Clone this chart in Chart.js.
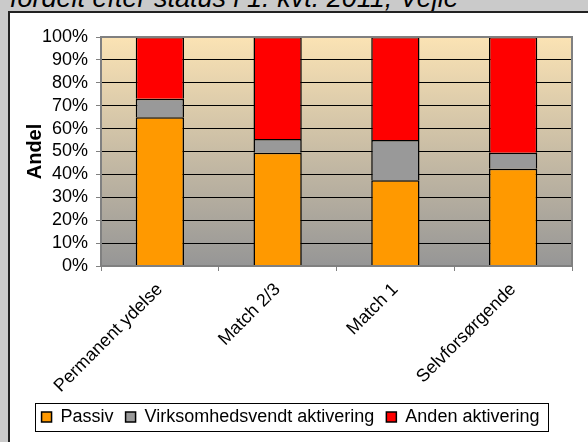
<!DOCTYPE html>
<html>
<head>
<meta charset="utf-8">
<script src="https://cdn.jsdelivr.net/npm/chart.js@4.4.0/dist/chart.umd.min.js"></script>
<style>
  html, body { margin: 0; padding: 0; }
  body { width: 588px; height: 442px; background: #cacaca; position: relative; overflow: hidden; font-family: "Liberation Sans", Arial, sans-serif; }
  .title { position: absolute; left: 10px; top: -15px; font-size: 27px; line-height: 27px; font-style: italic; color: #000; white-space: nowrap; }
  .panel { position: absolute; left: 8px; top: 11px; width: 600px; height: 460px; background: #fff; border-left: 2px solid #222; border-top: 2px solid #222; }
  .wrap { position: absolute; left: 0; top: 0; width: 588px; height: 442px; }
</style>
</head>
<body>
<div class="title">fordelt efter status i 1. kvt. 2011, Vejle</div>
<div class="panel"></div>
<div class="wrap"><canvas id="chart" width="588" height="442"></canvas></div>
<script>
const categories = ['Permanent ydelse', 'Match 2/3', 'Match 1', 'Selvforsørgende'];
const passiv = [65, 49.5, 37.5, 42.5];
const virksomhedsvendt = [8, 6, 17.5, 7];
const anden = [27, 44.5, 45, 50.5];

const FONT = '"Liberation Sans", Arial, sans-serif';

const plotBackground = {
  id: 'plotBackground',
  beforeDraw(chart) {
    const { ctx, chartArea: a } = chart;
    const g = ctx.createLinearGradient(0, a.top, 0, a.bottom);
    g.addColorStop(0, '#fbe3b4');
    g.addColorStop(1, '#969696');
    ctx.save();
    ctx.fillStyle = g;
    ctx.fillRect(a.left, a.top, a.right - a.left, a.bottom - a.top);
    ctx.restore();
  },
  afterDraw(chart) {
    const { ctx, chartArea: a, legend } = chart;
    ctx.save();
    ctx.strokeStyle = '#808080';
    ctx.lineWidth = 2;
    ctx.strokeRect(a.left, a.top, a.right - a.left, a.bottom - a.top);
    // legend frame
    const boxes = legend.legendHitBoxes;
    if (boxes && boxes.length) {
      const l = Math.min(...boxes.map(b => b.left)) - 7;
      const r = Math.max(...boxes.map(b => b.left + b.width)) + 8;
      const t = boxes[0].top - 5;
      const btm = boxes[0].top + boxes[0].height + 5;
      ctx.strokeStyle = '#000';
      ctx.lineWidth = 1;
      ctx.strokeRect(Math.round(l) + 0.5, Math.round(t) + 0.5, Math.round(r - l), Math.round(btm - t));
    }
    ctx.restore();
  }
};

new Chart(document.getElementById('chart').getContext('2d'), {
  type: 'bar',
  data: {
    labels: categories,
    datasets: [
      { label: 'Passiv', data: passiv, backgroundColor: '#ff9900', borderColor: '#000', borderWidth: 1.5 },
      { label: 'Virksomhedsvendt aktivering', data: virksomhedsvendt, backgroundColor: '#999999', borderColor: '#000', borderWidth: 1.5 },
      { label: 'Anden aktivering', data: anden, backgroundColor: '#ff0000', borderColor: '#000', borderWidth: 1.5 }
    ]
  },
  plugins: [plotBackground],
  options: {
    responsive: false,
    animation: false,
    layout: { padding: { top: 37, left: 9, right: 16, bottom: 6 } },
    datasets: { bar: { categoryPercentage: 1, barPercentage: 0.41 } },
    plugins: {
      legend: {
        position: 'bottom',
        labels: {
          color: '#000',
          font: { family: FONT, size: 18 },
          boxWidth: 10,
          boxHeight: 10,
          padding: 12,
          useBorderRadius: false
        }
      },
      tooltip: { enabled: false }
    },
    scales: {
      x: {
        stacked: true,
        afterFit(scale) { scale.height = 130; },
        grid: { offset: true, drawOnChartArea: false, drawTicks: true, tickLength: 5, color: '#808080' },
        border: { color: '#808080', width: 2 },
        ticks: {
          color: '#000',
          minRotation: 45,
          maxRotation: 45,
          autoSkip: false,
          padding: 8,
          font: { family: FONT, size: 18 }
        }
      },
      y: {
        stacked: true,
        min: 0,
        max: 100,
        afterFit(scale) { scale.width = 92; },
        grid: { color: '#000', lineWidth: 1, tickLength: 5, tickColor: '#808080' },
        border: { color: '#808080', width: 2 },
        title: {
          display: true,
          text: 'Andel',
          color: '#000',
          padding: { top: 14 },
          font: { family: FONT, size: 20, weight: 'bold' }
        },
        ticks: {
          stepSize: 10,
          autoSkip: false,
          color: '#000',
          padding: 8,
          font: { family: FONT, size: 18 },
          callback: v => v + '%'
        }
      }
    }
  }
});
</script>
</body>
</html>
